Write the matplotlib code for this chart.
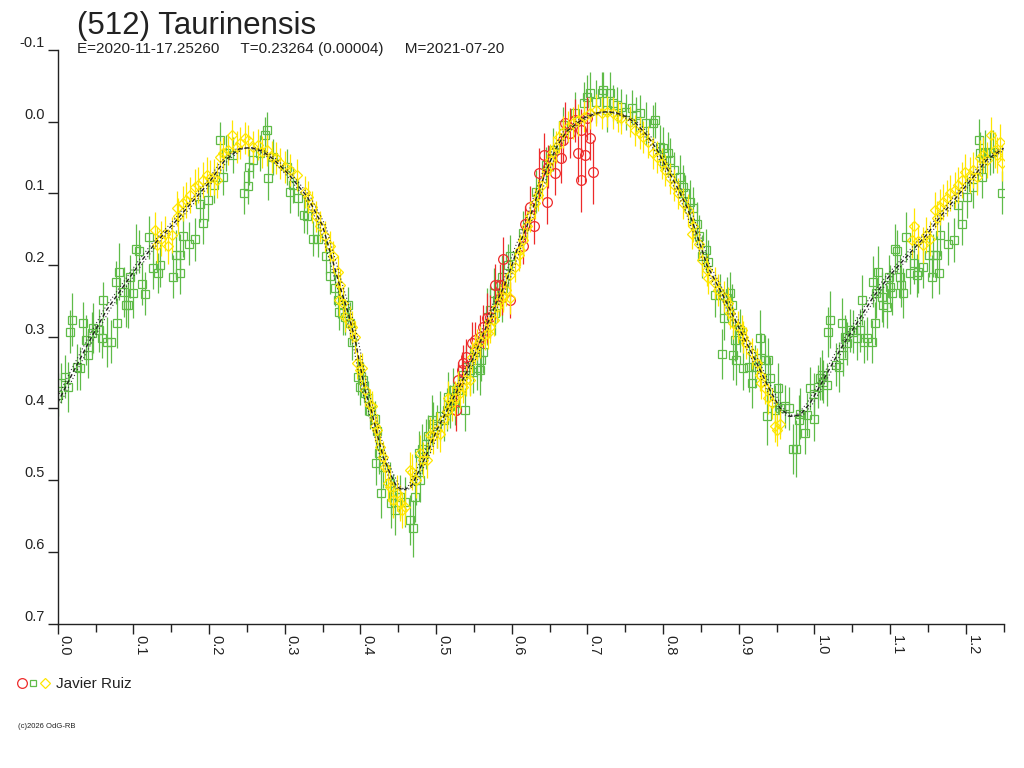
import numpy as np
import matplotlib
matplotlib.use("Agg")
import matplotlib.pyplot as plt

plt.rcParams['font.family'] = ['Liberation Sans', 'DejaVu Sans']

# fitted light curve (phase, mag)
model_phase = [0.000, 0.020, 0.045, 0.065, 0.090, 0.110, 0.130, 0.155, 0.175, 0.200,
               0.220, 0.240, 0.255, 0.270, 0.285, 0.305, 0.330, 0.350, 0.365, 0.373,
               0.384, 0.393, 0.406, 0.415, 0.422, 0.430, 0.439, 0.448, 0.457, 0.468,
               0.477, 0.488, 0.501, 0.514, 0.527, 0.540, 0.554, 0.567, 0.580, 0.593,
               0.607, 0.620, 0.633, 0.646, 0.659, 0.672, 0.695, 0.712, 0.726, 0.739,
               0.751, 0.764, 0.778, 0.792, 0.805, 0.818, 0.832, 0.845, 0.858, 0.880,
               0.902, 0.924, 0.941, 0.955, 0.968, 0.981, 0.994, 1.012, 1.034, 1.056,
               1.078, 1.100, 1.122, 1.148, 1.166, 1.188, 1.210, 1.228, 1.250]
model_mag = [0.392, 0.350, 0.300, 0.262, 0.225, 0.195, 0.168, 0.140, 0.115, 0.085,
             0.055, 0.038, 0.036, 0.041, 0.052, 0.073, 0.105, 0.145, 0.200, 0.230,
             0.267, 0.304, 0.374, 0.405, 0.435, 0.467, 0.490, 0.509, 0.514, 0.507,
             0.488, 0.463, 0.430, 0.404, 0.377, 0.350, 0.318, 0.284, 0.252, 0.222,
             0.179, 0.146, 0.105, 0.067, 0.036, 0.014, -0.005, -0.012, -0.014, -0.012,
             -0.007, 0.002, 0.018, 0.039, 0.065, 0.090, 0.120, 0.158, 0.200, 0.244,
             0.291, 0.337, 0.374, 0.400, 0.411, 0.409, 0.393, 0.360, 0.318, 0.281,
             0.244, 0.214, 0.188, 0.158, 0.133, 0.105, 0.077, 0.053, 0.037]

# observations: (phase, mag, error)
green_pts = [
    (0.001, 0.381, 0.030), (0.005, 0.365, 0.028), (0.010, 0.356, 0.030), (0.014, 0.370, 0.035),
    (0.016, 0.293, 0.030), (0.019, 0.276, 0.037), (0.025, 0.342, 0.032), (0.029, 0.344, 0.030),
    (0.034, 0.281, 0.030), (0.038, 0.305, 0.035), (0.040, 0.325, 0.033), (0.045, 0.295, 0.030),
    (0.047, 0.288, 0.035), (0.054, 0.291, 0.030), (0.058, 0.302, 0.028), (0.060, 0.249, 0.025),
    (0.065, 0.307, 0.035), (0.071, 0.307, 0.030), (0.077, 0.224, 0.030), (0.079, 0.281, 0.035),
    (0.081, 0.209, 0.040), (0.087, 0.237, 0.035), (0.090, 0.256, 0.030), (0.093, 0.256, 0.032),
    (0.095, 0.216, 0.030), (0.099, 0.239, 0.035), (0.103, 0.178, 0.035), (0.107, 0.181, 0.030),
    (0.112, 0.226, 0.030), (0.115, 0.240, 0.030), (0.120, 0.161, 0.030), (0.126, 0.204, 0.030),
    (0.132, 0.211, 0.028), (0.135, 0.200, 0.030), (0.153, 0.216, 0.030), (0.156, 0.186, 0.035),
    (0.161, 0.186, 0.030), (0.162, 0.211, 0.030), (0.165, 0.159, 0.030), (0.174, 0.170, 0.030),
    (0.182, 0.164, 0.030), (0.188, 0.115, 0.025), (0.192, 0.141, 0.030), (0.199, 0.109, 0.030),
    (0.206, 0.088, 0.025), (0.214, 0.025, 0.025), (0.219, 0.077, 0.025), (0.223, 0.044, 0.025),
    (0.232, 0.046, 0.025), (0.246, 0.099, 0.030), (0.252, 0.090, 0.025), (0.253, 0.063, 0.025),
    (0.258, 0.053, 0.025), (0.267, 0.044, 0.025), (0.274, 0.019, 0.025), (0.276, 0.012, 0.025),
    (0.278, 0.079, 0.030), (0.285, 0.049, 0.025), (0.303, 0.063, 0.025), (0.307, 0.098, 0.030),
    (0.311, 0.088, 0.025), (0.318, 0.107, 0.025), (0.325, 0.130, 0.025), (0.329, 0.132, 0.025),
    (0.338, 0.163, 0.025), (0.344, 0.164, 0.025), (0.355, 0.188, 0.025), (0.360, 0.215, 0.025),
    (0.366, 0.232, 0.025), (0.370, 0.249, 0.025), (0.372, 0.265, 0.025), (0.377, 0.267, 0.030),
    (0.380, 0.272, 0.025), (0.384, 0.256, 0.025), (0.386, 0.281, 0.030), (0.389, 0.307, 0.025),
    (0.397, 0.356, 0.025), (0.399, 0.370, 0.025), (0.404, 0.360, 0.025), (0.406, 0.379, 0.030),
    (0.410, 0.386, 0.025), (0.413, 0.404, 0.025), (0.419, 0.414, 0.025), (0.422, 0.432, 0.025),
    (0.424, 0.462, 0.030), (0.421, 0.476, 0.030), (0.427, 0.518, 0.035), (0.430, 0.481, 0.030),
    (0.439, 0.504, 0.030), (0.441, 0.532, 0.035), (0.443, 0.521, 0.030), (0.446, 0.542, 0.035),
    (0.452, 0.523, 0.030), (0.459, 0.530, 0.035), (0.466, 0.556, 0.035), (0.469, 0.567, 0.040),
    (0.472, 0.523, 0.035), (0.474, 0.500, 0.035), (0.479, 0.500, 0.030), (0.477, 0.462, 0.030),
    (0.481, 0.456, 0.035), (0.487, 0.449, 0.035), (0.490, 0.439, 0.030), (0.494, 0.416, 0.035),
    (0.496, 0.421, 0.030), (0.501, 0.425, 0.030), (0.505, 0.411, 0.035), (0.510, 0.416, 0.030),
    (0.514, 0.402, 0.030), (0.516, 0.384, 0.035), (0.518, 0.397, 0.030), (0.523, 0.374, 0.030),
    (0.525, 0.393, 0.030), (0.529, 0.374, 0.035), (0.536, 0.353, 0.030), (0.538, 0.402, 0.030),
    (0.540, 0.342, 0.030), (0.545, 0.346, 0.035), (0.549, 0.349, 0.030), (0.554, 0.344, 0.030),
    (0.558, 0.346, 0.035), (0.560, 0.332, 0.030), (0.562, 0.321, 0.030), (0.567, 0.272, 0.040),
    (0.571, 0.263, 0.035), (0.576, 0.239, 0.035), (0.578, 0.267, 0.030), (0.580, 0.249, 0.030),
    (0.587, 0.244, 0.035), (0.589, 0.232, 0.030), (0.587, 0.216, 0.030), (0.595, 0.200, 0.030),
    (0.598, 0.188, 0.030), (0.615, 0.155, 0.030), (0.632, 0.098, 0.030), (0.645, 0.060, 0.025),
    (0.655, 0.039, 0.030), (0.668, 0.005, 0.025), (0.684, -0.012, 0.030), (0.695, -0.026, 0.030),
    (0.699, -0.035, 0.030), (0.703, -0.040, 0.030), (0.712, -0.028, 0.030), (0.719, -0.040, 0.030),
    (0.721, -0.044, 0.025), (0.726, -0.016, 0.030), (0.730, -0.040, 0.030), (0.734, -0.026, 0.025),
    (0.739, -0.023, 0.025), (0.745, -0.021, 0.025), (0.751, -0.014, 0.025), (0.759, -0.019, 0.025),
    (0.764, -0.009, 0.025), (0.770, -0.012, 0.025), (0.778, 0.002, 0.030), (0.787, 0.002, 0.025),
    (0.789, -0.002, 0.025), (0.796, 0.035, 0.030), (0.800, 0.037, 0.030), (0.807, 0.044, 0.030),
    (0.809, 0.053, 0.030), (0.814, 0.067, 0.025), (0.822, 0.077, 0.030), (0.827, 0.091, 0.030),
    (0.829, 0.100, 0.025), (0.836, 0.112, 0.030), (0.840, 0.121, 0.030), (0.845, 0.142, 0.030),
    (0.848, 0.160, 0.030), (0.851, 0.188, 0.030), (0.857, 0.179, 0.030), (0.860, 0.195, 0.030),
    (0.869, 0.242, 0.030), (0.875, 0.242, 0.030), (0.880, 0.274, 0.030), (0.884, 0.246, 0.030),
    (0.888, 0.239, 0.030), (0.891, 0.256, 0.030), (0.895, 0.304, 0.030), (0.893, 0.325, 0.035),
    (0.878, 0.324, 0.035), (0.897, 0.332, 0.035), (0.902, 0.291, 0.030), (0.906, 0.344, 0.030),
    (0.913, 0.342, 0.035), (0.917, 0.365, 0.035), (0.922, 0.342, 0.030), (0.928, 0.302, 0.040),
    (0.930, 0.330, 0.035), (0.935, 0.332, 0.035), (0.939, 0.332, 0.030), (0.941, 0.358, 0.030),
    (0.937, 0.411, 0.040), (0.948, 0.402, 0.035), (0.952, 0.372, 0.035), (0.955, 0.400, 0.035),
    (0.961, 0.397, 0.030), (0.966, 0.400, 0.030), (0.972, 0.456, 0.035), (0.976, 0.456, 0.040),
    (0.979, 0.416, 0.035), (0.981, 0.407, 0.035), (0.988, 0.434, 0.030), (0.990, 0.409, 0.030),
    (0.999, 0.415, 0.030), (0.994, 0.372, 0.030), (1.000, 0.380, 0.030), (1.005, 0.370, 0.030),
    (1.007, 0.358, 0.030), (1.010, 0.353, 0.035), (1.012, 0.363, 0.030), (1.016, 0.367, 0.030),
    (1.018, 0.293, 0.035), (1.021, 0.276, 0.040), (1.029, 0.339, 0.030), (1.032, 0.342, 0.035),
    (1.036, 0.281, 0.035), (1.038, 0.325, 0.030), (1.040, 0.300, 0.030), (1.043, 0.309, 0.030),
    (1.047, 0.291, 0.030), (1.051, 0.293, 0.030), (1.056, 0.302, 0.030), (1.060, 0.291, 0.030),
    (1.063, 0.249, 0.035), (1.065, 0.307, 0.030), (1.069, 0.302, 0.030), (1.076, 0.307, 0.030),
    (1.078, 0.223, 0.035), (1.080, 0.281, 0.030), (1.082, 0.239, 0.035), (1.084, 0.209, 0.035),
    (1.089, 0.244, 0.035), (1.091, 0.256, 0.030), (1.096, 0.258, 0.030), (1.098, 0.216, 0.030),
    (1.100, 0.230, 0.030), (1.102, 0.239, 0.030), (1.107, 0.177, 0.035), (1.109, 0.181, 0.030),
    (1.113, 0.216, 0.030), (1.115, 0.228, 0.030), (1.117, 0.239, 0.035), (1.121, 0.161, 0.035),
    (1.126, 0.211, 0.030), (1.131, 0.197, 0.030), (1.135, 0.214, 0.030), (1.137, 0.209, 0.030),
    (1.144, 0.202, 0.030), (1.151, 0.186, 0.030), (1.155, 0.216, 0.030), (1.157, 0.186, 0.030),
    (1.162, 0.186, 0.030), (1.164, 0.211, 0.030), (1.166, 0.158, 0.030), (1.176, 0.170, 0.030),
    (1.184, 0.165, 0.030), (1.190, 0.116, 0.030), (1.195, 0.142, 0.030), (1.201, 0.105, 0.030),
    (1.210, 0.091, 0.030), (1.217, 0.026, 0.030), (1.219, 0.044, 0.030), (1.221, 0.077, 0.030),
    (1.225, 0.042, 0.030), (1.232, 0.044, 0.030), (1.236, 0.042, 0.030), (1.248, 0.099, 0.030),
]

yellow_pts = [
    (0.129, 0.151, 0.025), (0.131, 0.172, 0.025), (0.137, 0.163, 0.025), (0.142, 0.156, 0.025),
    (0.146, 0.174, 0.025), (0.151, 0.158, 0.025), (0.157, 0.121, 0.025), (0.159, 0.132, 0.025),
    (0.166, 0.114, 0.025), (0.170, 0.109, 0.025), (0.175, 0.102, 0.025), (0.181, 0.091, 0.025),
    (0.186, 0.088, 0.025), (0.192, 0.081, 0.025), (0.197, 0.074, 0.025), (0.201, 0.079, 0.025),
    (0.206, 0.077, 0.025), (0.210, 0.081, 0.025), (0.214, 0.049, 0.022), (0.219, 0.044, 0.022),
    (0.225, 0.039, 0.022), (0.230, 0.019, 0.022), (0.237, 0.035, 0.022), (0.241, 0.030, 0.022),
    (0.248, 0.023, 0.022), (0.252, 0.026, 0.022), (0.258, 0.035, 0.022), (0.265, 0.032, 0.022),
    (0.270, 0.042, 0.022), (0.276, 0.040, 0.022), (0.283, 0.049, 0.022), (0.289, 0.051, 0.022),
    (0.294, 0.058, 0.022), (0.300, 0.063, 0.022), (0.307, 0.067, 0.022), (0.316, 0.074, 0.022),
    (0.327, 0.098, 0.022), (0.331, 0.105, 0.022), (0.336, 0.119, 0.022), (0.342, 0.132, 0.022),
    (0.347, 0.146, 0.022), (0.353, 0.160, 0.022), (0.360, 0.174, 0.022), (0.364, 0.188, 0.022),
    (0.370, 0.209, 0.022), (0.372, 0.249, 0.022), (0.373, 0.228, 0.022), (0.377, 0.253, 0.022),
    (0.380, 0.272, 0.022), (0.386, 0.279, 0.022), (0.389, 0.286, 0.022), (0.393, 0.300, 0.022),
    (0.395, 0.337, 0.022), (0.399, 0.346, 0.022), (0.402, 0.344, 0.022), (0.406, 0.374, 0.022),
    (0.413, 0.395, 0.022), (0.415, 0.397, 0.022), (0.419, 0.425, 0.022), (0.422, 0.430, 0.022),
    (0.426, 0.453, 0.022), (0.430, 0.467, 0.022), (0.433, 0.481, 0.022), (0.437, 0.504, 0.025),
    (0.439, 0.509, 0.025), (0.443, 0.528, 0.025), (0.448, 0.518, 0.025), (0.452, 0.532, 0.025),
    (0.455, 0.542, 0.025), (0.459, 0.537, 0.025), (0.466, 0.486, 0.025), (0.468, 0.488, 0.025),
    (0.474, 0.500, 0.025), (0.479, 0.462, 0.025), (0.483, 0.472, 0.025), (0.488, 0.472, 0.025),
    (0.492, 0.437, 0.025), (0.496, 0.439, 0.025), (0.501, 0.430, 0.025), (0.505, 0.435, 0.025),
    (0.510, 0.414, 0.025), (0.514, 0.404, 0.025), (0.516, 0.386, 0.025), (0.521, 0.393, 0.025),
    (0.525, 0.386, 0.025), (0.529, 0.370, 0.022), (0.532, 0.379, 0.022), (0.536, 0.370, 0.022),
    (0.540, 0.360, 0.022), (0.545, 0.360, 0.022), (0.547, 0.328, 0.022), (0.551, 0.318, 0.022),
    (0.554, 0.311, 0.022), (0.558, 0.307, 0.022), (0.565, 0.297, 0.022), (0.569, 0.295, 0.022),
    (0.571, 0.286, 0.022), (0.576, 0.277, 0.022), (0.580, 0.258, 0.022), (0.584, 0.249, 0.022),
    (0.589, 0.244, 0.022), (0.593, 0.235, 0.022), (0.598, 0.246, 0.022), (0.598, 0.214, 0.022),
    (0.604, 0.202, 0.022), (0.609, 0.186, 0.022), (0.611, 0.179, 0.022), (0.615, 0.165, 0.022),
    (0.620, 0.146, 0.022), (0.624, 0.132, 0.022), (0.631, 0.114, 0.022), (0.635, 0.102, 0.022),
    (0.640, 0.088, 0.022), (0.646, 0.067, 0.022), (0.651, 0.053, 0.022), (0.655, 0.042, 0.022),
    (0.659, 0.035, 0.022), (0.663, 0.021, 0.022), (0.668, 0.014, 0.022), (0.675, 0.007, 0.022),
    (0.681, 0.002, 0.022), (0.688, -0.002, 0.022), (0.695, -0.007, 0.022), (0.703, -0.012, 0.022),
    (0.712, -0.016, 0.022), (0.719, -0.012, 0.022), (0.726, -0.014, 0.022), (0.734, -0.012, 0.022),
    (0.741, -0.007, 0.022), (0.745, -0.005, 0.022), (0.756, 0.000, 0.022), (0.763, 0.012, 0.022),
    (0.770, 0.016, 0.022), (0.774, 0.021, 0.022), (0.780, 0.028, 0.022), (0.787, 0.044, 0.022),
    (0.792, 0.049, 0.022), (0.798, 0.058, 0.022), (0.803, 0.067, 0.022), (0.809, 0.079, 0.022),
    (0.814, 0.088, 0.022), (0.820, 0.100, 0.022), (0.827, 0.114, 0.022), (0.833, 0.123, 0.022),
    (0.838, 0.156, 0.022), (0.840, 0.146, 0.022), (0.847, 0.170, 0.022), (0.851, 0.193, 0.022),
    (0.858, 0.207, 0.022), (0.860, 0.218, 0.022), (0.869, 0.225, 0.022), (0.873, 0.235, 0.022),
    (0.880, 0.244, 0.022), (0.886, 0.253, 0.022), (0.888, 0.267, 0.022), (0.893, 0.281, 0.022),
    (0.899, 0.286, 0.022), (0.904, 0.291, 0.022), (0.906, 0.300, 0.022), (0.910, 0.309, 0.022),
    (0.917, 0.323, 0.022), (0.924, 0.337, 0.022), (0.928, 0.353, 0.022), (0.930, 0.365, 0.022),
    (0.935, 0.372, 0.022), (0.939, 0.386, 0.022), (0.944, 0.393, 0.022), (0.948, 0.425, 0.022),
    (0.951, 0.430, 0.022), (0.954, 0.421, 0.022), (1.129, 0.165, 0.025), (1.131, 0.146, 0.025),
    (1.137, 0.167, 0.025), (1.144, 0.172, 0.025), (1.148, 0.158, 0.025), (1.153, 0.163, 0.025),
    (1.159, 0.123, 0.025), (1.162, 0.135, 0.025), (1.166, 0.119, 0.025), (1.170, 0.112, 0.025),
    (1.175, 0.107, 0.025), (1.179, 0.100, 0.025), (1.186, 0.095, 0.025), (1.190, 0.088, 0.025),
    (1.195, 0.081, 0.025), (1.199, 0.070, 0.025), (1.206, 0.074, 0.025), (1.210, 0.067, 0.025),
    (1.215, 0.077, 0.025), (1.219, 0.051, 0.025), (1.223, 0.046, 0.025), (1.228, 0.053, 0.025),
    (1.234, 0.019, 0.025), (1.239, 0.039, 0.025), (1.241, 0.046, 0.025), (1.245, 0.028, 0.025),
    (1.248, 0.058, 0.025),
]

red_pts = [
    (0.527, 0.402, 0.030), (0.529, 0.360, 0.025), (0.534, 0.346, 0.025), (0.536, 0.337, 0.025),
    (0.540, 0.328, 0.025), (0.548, 0.309, 0.030), (0.551, 0.304, 0.025), (0.558, 0.300, 0.030),
    (0.562, 0.286, 0.030), (0.567, 0.274, 0.035), (0.571, 0.272, 0.030), (0.578, 0.228, 0.030),
    (0.584, 0.228, 0.030), (0.587, 0.244, 0.025), (0.598, 0.249, 0.025), (0.589, 0.191, 0.030),
    (0.615, 0.174, 0.025), (0.618, 0.142, 0.025), (0.624, 0.119, 0.030), (0.629, 0.146, 0.025),
    (0.636, 0.072, 0.035), (0.643, 0.046, 0.030), (0.646, 0.112, 0.030), (0.648, 0.063, 0.030),
    (0.657, 0.072, 0.030), (0.665, 0.051, 0.035), (0.668, 0.026, 0.030), (0.670, 0.002, 0.030),
    (0.677, 0.016, 0.035), (0.684, -0.002, 0.030), (0.688, 0.044, 0.040), (0.692, 0.081, 0.045),
    (0.692, 0.012, 0.030), (0.697, 0.046, 0.040), (0.699, -0.005, 0.030), (0.703, 0.023, 0.030),
    (0.708, 0.070, 0.045),
]

observer = "Javier Ruiz"
title = "(512) Taurinensis"
subtitle = "E=2020-11-17.25260     T=0.23264 (0.00004)     M=2021-07-20"
footer = "(c)2026 OdG-RB"

y_ticks = [-0.1, 0.0, 0.1, 0.2, 0.3, 0.4, 0.5, 0.6, 0.7]
x_ticks = [0.0, 0.1, 0.2, 0.3, 0.4, 0.5, 0.6, 0.7, 0.8, 0.9, 1.0, 1.1, 1.2]

c_green = '#5fbb48'
c_yellow = '#ffe600'
c_red = '#ee2a2a'

fig = plt.figure(figsize=(10.24, 7.68), dpi=100)
ax = fig.add_axes([0.05635, 0.18802, 0.92371, 0.74688])

def draw(pts, marker, color, ms, z):
    ph, mg, er = map(np.array, zip(*pts))
    ax.errorbar(ph, mg, yerr=er, fmt=marker, mfc='none', mec=color, ecolor=color,
                ms=ms, mew=0.9, elinewidth=0.9, capsize=0, zorder=z)

draw(green_pts, 's', c_green, 5.8, 2)
draw(red_pts, 'o', c_red, 7, 3)
draw(yellow_pts, 'D', c_yellow, 5.2, 4)

mp = np.array(model_phase)
ax.plot(mp, model_mag, color='#222222', lw=1.0, ls=(0, (3, 2)), zorder=6)
ax.plot(mp - 0.004, model_mag, color='#333333', lw=0.8, ls=(0, (1, 2)), zorder=6)
ax.plot(mp + 0.004, model_mag, color='#333333', lw=0.8, ls=(0, (1, 2)), zorder=6)

ax.set_xlim(0, 1.25)
ax.set_ylim(0.7, -0.1)
for s in ['top', 'right']:
    ax.spines[s].set_visible(False)
for s in ['left', 'bottom']:
    ax.spines[s].set_linewidth(1.0)
    ax.spines[s].set_color('#222222')

ax.set_yticks(y_ticks)
ax.set_yticklabels(['%.1f' % v for v in y_ticks], fontsize=10.5, color='#222222')
for lab in ax.get_yticklabels():
    lab.set_verticalalignment('bottom')
ax.set_xticks(x_ticks)
ax.set_xticks(np.arange(0.05, 1.26, 0.1), minor=True)
ax.set_xticklabels(['%.1f' % v for v in x_ticks], fontsize=10.5, color='#222222',
                   rotation=-90, ha='left', va='top')
ax.tick_params(axis='y', direction='out', length=7.2, width=1, pad=2, colors='#222222')
ax.tick_params(axis='x', which='major', direction='out', length=7.2, width=1, pad=1,
               colors='#222222')
ax.tick_params(axis='x', which='minor', direction='out', length=6, width=1, colors='#222222')

fig.text(0.0752, 0.9557, title, fontsize=22.5, color='#222222', va='baseline')
fig.text(0.0752, 0.9306, subtitle, fontsize=11, color='#222222', va='baseline')

# legend row
fig.lines.append(plt.Line2D([0.0215], [0.1107], marker='o', ms=7, mfc='none', mec=c_red,
                            mew=0.9, transform=fig.transFigure, figure=fig))
fig.lines.append(plt.Line2D([0.0327], [0.1107], marker='s', ms=4.6, mfc='none', mec=c_green,
                            mew=0.9, transform=fig.transFigure, figure=fig))
fig.lines.append(plt.Line2D([0.0439], [0.1107], marker='D', ms=5.0, mfc='none', mec=c_yellow,
                            mew=0.9, transform=fig.transFigure, figure=fig))
fig.text(0.0547, 0.1048, observer, fontsize=11, color='#222222', va='baseline')

fig.text(0.0176, 0.052, footer, fontsize=5.5, color='#222222', va='baseline')

fig.savefig('out.png', dpi=100)
